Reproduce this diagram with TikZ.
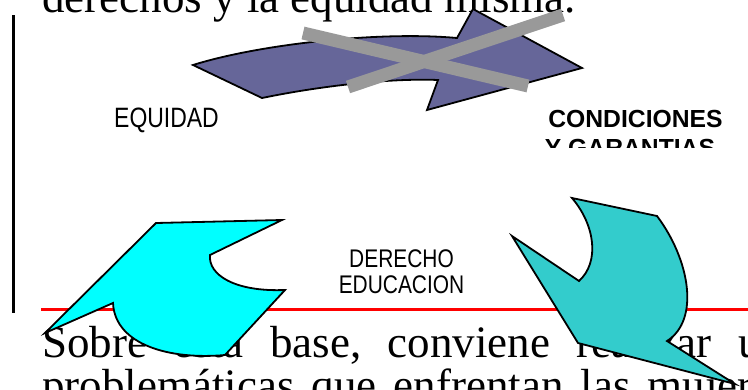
\documentclass[tikz,border=0pt]{standalone}
\usepackage{fontspec}
\setmainfont{Liberation Serif}
\newfontfamily\arialfont{Liberation Sans}
\newfontfamily\narrowfont[FakeStretch=0.82]{Liberation Sans}
\usepackage{xcolor}
\definecolor{arrowpurple}{HTML}{666699}
\definecolor{crossgray}{HTML}{999999}
\definecolor{arrowcyan}{HTML}{00FFFF}
\definecolor{arrowteal}{HTML}{33CCCC}

\begin{document}
\begin{tikzpicture}[x=1pt, y=-1pt,
    pagetext/.style={anchor=base west, inner sep=0pt, font=\fontsize{45}{52}\selectfont},
    arrowshape/.style={draw=black, line width=1.8pt, line join=miter},
    crossbar/.style={crossgray, line width=13pt},
    narrowlabel/.style={anchor=base, inner sep=0pt, font=\narrowfont\fontsize{#1}{#1}\selectfont},
    boldlabel/.style={anchor=base, inner sep=0pt, font=\arialfont\bfseries\fontsize{24.7}{29}\selectfont}]
    \useasboundingbox (0,0) rectangle (748,389);
    \clip (0,0) rectangle (748,389);

    % Page text around the picture
    \node[pagetext] (toptext) at (42,12) {derechos y la equidad misma.};
    \node[pagetext] (lineone) at (42,357) {\spaceskip=26.5pt\relax Sobre esta base, conviene realizar un};
    \node[pagetext] (linetwo) at (42,400) {\spaceskip=17pt\relax problemáticas que enfrentan las mujeres};

    % Frame lines
    \draw[red, line width=3pt] (41,309) -- (748,309);
    \draw[black, line width=3pt] (13,15) -- (13,313);

    % Purple arrow
    \draw[arrowshape, fill=arrowpurple] (193,65) .. controls (260,44) and (380,31) .. (457,38)
        -- (473,9) -- (582,68) -- (427,110) -- (438,80)
        .. controls (390,78) and (320,86) .. (262,98) -- cycle;

    % Cross over it
    \draw[crossbar] (303,33) -- (528,86);
    \draw[crossbar] (348,87) -- (563,15);

    % Cyan arrow
    \draw[arrowshape, fill=arrowcyan] (156,223) -- (282,220) -- (210,255)
        .. controls (208,275) and (235,292) .. (285,290) -- (225,355)
        .. controls (170,360) and (115,345) .. (113,303) -- (45,333) -- cycle;

    % Teal arrow
    \draw[arrowshape, fill=arrowteal] (572,198) -- (657,216)
        .. controls (690,260) and (700,320) .. (667,341) -- (735,384) -- (578,343)
        -- (512,236) -- (579,281) .. controls (600,262) and (595,225) .. (572,198) -- cycle;

    % Labels
    \node[narrowlabel=28] (equidad) at (166.5,127) {EQUIDAD};
    \node[boldlabel] (condiciones) at (635.5,127) {CONDICIONES};
    \begin{scope}
        \clip (520,95) rectangle (748,147);
        \node[boldlabel] (garantias) at (630,156) {Y GARANTIAS};
    \end{scope}
    \node[narrowlabel=25.5] (derecho) at (401.5,267) {DERECHO};
    \node[narrowlabel=25.5] (educacion) at (401.5,293) {EDUCACION};
\end{tikzpicture}
\end{document}
